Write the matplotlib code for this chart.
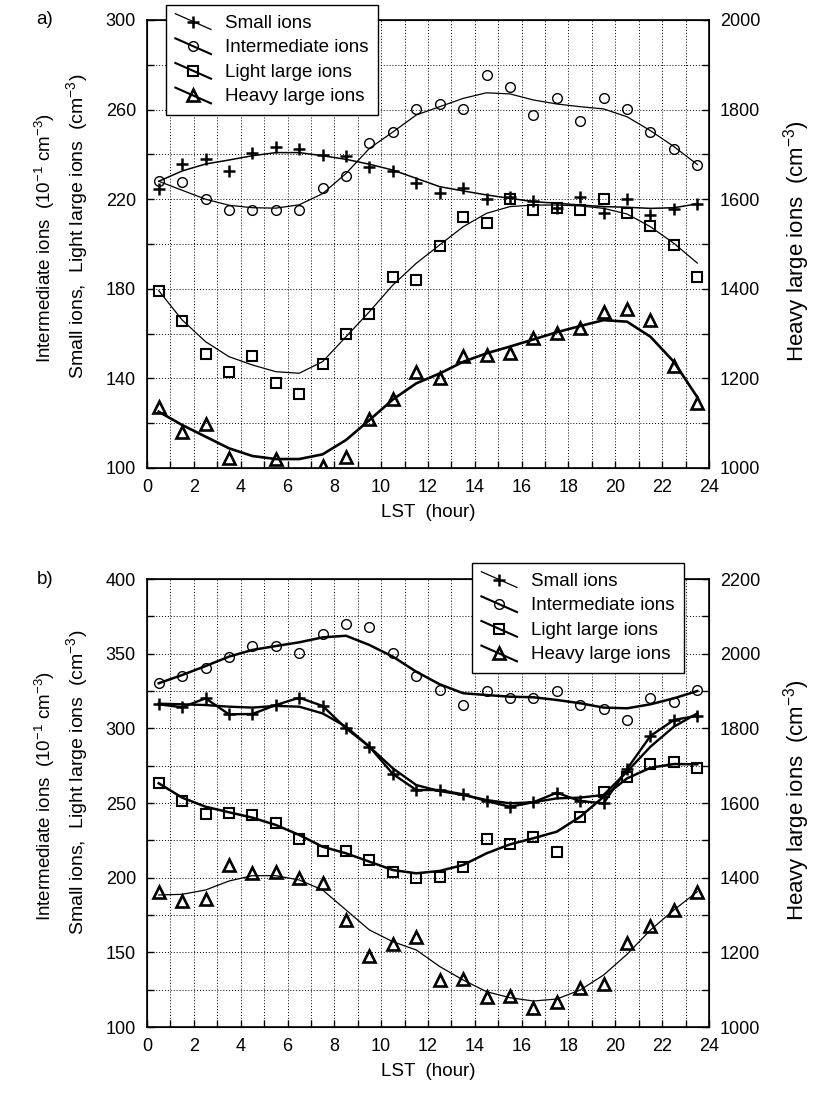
import numpy as np
import matplotlib
matplotlib.use('Agg')
import matplotlib.pyplot as plt
from matplotlib.lines import Line2D
from matplotlib.legend_handler import HandlerBase
from matplotlib.ticker import MultipleLocator, FixedLocator

plt.rcParams['font.family'] = ['Liberation Sans', 'DejaVu Sans']
plt.rcParams['mathtext.fontset'] = 'custom'
plt.rcParams['mathtext.rm'] = 'Liberation Sans'
plt.rcParams['mathtext.it'] = 'Liberation Sans'

hours = np.arange(0.5, 24, 1.0)

# ---------------- panel a) ----------------
a_small = [224.6, 235.7, 237.8, 232.7, 240.5, 243.2, 242.5, 239.6, 239.4, 234.5, 232.7, 227.1,
           222.6, 225.1, 220.0, 221.1, 219.2, 215.9, 220.8, 213.7, 220.0, 212.9, 215.8, 217.9]
a_small_fit = [228.0, 232.6, 235.7, 237.5, 239.4, 240.8, 240.8, 239.4, 237.8, 235.6, 233.0, 229.3,
               225.6, 223.7, 221.9, 220.4, 218.9, 218.2, 217.4, 216.7, 216.4, 215.9, 216.2, 217.9]
a_inter = [228.1, 227.5, 220.1, 215.2, 215.2, 215.2, 215.2, 225.1, 230.4, 245.2, 250.0, 260.1,
           262.5, 260.1, 275.3, 270.0, 257.6, 265.0, 255.0, 265.0, 260.1, 249.9, 242.5, 235.3]
a_inter_fit = [228.0, 224.0, 220.0, 217.3, 216.2, 216.0, 217.5, 222.5, 231.5, 242.7, 250.0, 257.6,
               261.3, 265.0, 267.5, 267.0, 264.3, 262.5, 261.3, 260.3, 256.8, 250.6, 243.5, 235.5]
a_light = [179.2, 165.6, 150.9, 143.0, 150.0, 138.1, 133.0, 146.4, 159.8, 168.6, 185.1, 183.9,
           199.1, 211.9, 209.2, 220.0, 215.2, 215.9, 215.2, 220.0, 213.7, 208.0, 199.6, 185.1]
a_light_fit = [179.2, 166.1, 156.4, 149.7, 146.0, 143.0, 142.3, 147.5, 158.6, 169.8, 181.7, 191.4,
               199.6, 207.7, 213.7, 216.7, 217.4, 217.4, 217.0, 215.9, 213.4, 207.7, 200.3, 191.5]
a_heavy = [1136.8, 1081.0, 1097.5, 1021.6, np.nan, 1020.0, np.nan, 1004.5, 1023.8, 1109.4, 1154.0, 1215.0,
           1200.0, 1250.0, 1252.0, 1256.0, 1289.5, 1302.0, 1312.0, 1349.0, 1354.0, 1330.0, 1228.0, 1144.0]
a_heavy_fit = [1125.7, 1096.0, 1070.0, 1044.0, 1026.8, 1020.0, 1020.0, 1030.5, 1062.5, 1107.0, 1153.0, 1189.0,
               1211.0, 1237.0, 1256.0, 1271.0, 1287.0, 1303.0, 1317.0, 1330.0, 1326.6, 1293.0, 1237.0, 1158.0]

# ---------------- panel b) ----------------
b_small = [316.1, 314.1, 320.1, 309.4, 309.6, 315.6, 320.5, 315.0, 300.0, 287.7, 269.4, 258.7,
           258.7, 255.8, 251.3, 247.5, 250.5, 256.9, 251.3, 249.8, 272.8, 294.9, 305.6, 308.5]
b_small_fit = [316.5, 316.1, 315.6, 314.5, 313.9, 315.0, 314.5, 310.0, 301.1, 287.7, 273.2, 262.0,
               258.0, 255.4, 252.0, 249.8, 250.5, 253.1, 253.6, 255.4, 271.0, 287.7, 301.1, 310.0]
b_inter = [330.2, 335.3, 340.2, 347.6, 355.3, 355.3, 350.2, 363.0, 370.1, 367.7, 350.2, 335.3,
           325.5, 315.6, 325.2, 320.5, 320.5, 325.2, 315.6, 312.9, 305.6, 320.5, 317.8, 325.5]
b_inter_fit = [330.2, 335.7, 341.7, 348.0, 352.5, 355.1, 357.6, 360.9, 362.0, 355.8, 348.0, 337.9,
               329.5, 323.5, 322.3, 321.2, 320.8, 319.0, 316.8, 313.9, 313.4, 316.1, 320.1, 325.0]
b_light = [263.2, 251.3, 242.6, 243.1, 242.0, 236.4, 225.9, 217.9, 217.9, 211.8, 203.6, 199.6,
           200.7, 207.3, 225.9, 222.3, 227.4, 217.4, 240.8, 257.6, 267.6, 275.9, 277.7, 273.6]
b_light_fit = [263.2, 253.6, 247.5, 243.8, 240.2, 235.3, 228.6, 220.7, 216.3, 210.7, 205.1, 202.9,
               204.5, 208.5, 216.3, 222.3, 226.4, 230.8, 240.8, 254.2, 266.5, 273.6, 276.1, 275.9]
b_heavy = [1360.8, 1337.5, 1342.9, 1433.9, 1411.6, 1414.3, 1400.0, 1386.6, 1286.6, 1191.0, 1222.3, 1241.9,
           1125.9, 1128.6, 1081.2, 1083.0, 1050.0, 1066.0, 1105.4, 1114.3, 1225.9, 1271.4, 1313.4, 1362.4]
b_heavy_fit = [1353.6, 1355.4, 1367.0, 1391.0, 1405.3, 1405.3, 1393.8, 1367.0, 1313.4, 1259.8, 1228.5, 1206.3,
               1162.0, 1125.9, 1094.6, 1078.5, 1069.6, 1075.0, 1099.0, 1139.3, 1194.7, 1259.8, 1313.4, 1362.4]

labels = ['Small ions', 'Intermediate ions', 'Light large ions', 'Heavy large ions']
a_yticks = [100, 140, 180, 220, 260, 300]
b_yticks = [100, 150, 200, 250, 300, 350, 400]


class DiagHandler(HandlerBase):
    def create_artists(self, legend, orig_handle, xdescent, ydescent, width, height, fontsize, trans):
        x0 = -xdescent
        x1 = x0 + width
        yt = -ydescent + height * 1.05
        yb = -ydescent - height * 0.15
        ln = Line2D([x0, x1], [yt, yb], color='k', lw=orig_handle.get_linewidth())
        mk = Line2D([(x0 + x1) / 2], [(yt + yb) / 2], ls='none',
                    marker=orig_handle.get_marker(), ms=orig_handle.get_markersize(),
                    mfc=orig_handle.get_markerfacecolor(), mec='k',
                    mew=orig_handle.get_markeredgewidth())
        ln.set_transform(trans)
        mk.set_transform(trans)
        return [ln, mk]


MK = {
    'small': dict(marker='+', ms=8, mew=1.8, mfc='none', mec='k'),
    'inter': dict(marker='o', ms=7, mew=1.0, mfc='none', mec='k'),
    'light': dict(marker='s', ms=7.5, mew=1.5, mfc='none', mec='k'),
    'heavy': dict(marker='^', ms=8.5, mew=1.9, mfc='none', mec='k'),
}

fig = plt.figure(figsize=(8.28, 10.93), dpi=100)
L, R = 147 / 828, 709 / 828
H = 1093.0


def make_axes(top_px, bot_px, ylim, yticks, ymstep, y2lim, y2step, y2mstep):
    ax = fig.add_axes([L, 1 - bot_px / H, R - L, (bot_px - top_px) / H])
    ax.set_xlim(0, 24)
    ax.set_ylim(*ylim)
    ax.xaxis.set_major_locator(MultipleLocator(2))
    ax.xaxis.set_minor_locator(MultipleLocator(1))
    ax.yaxis.set_major_locator(FixedLocator(yticks))
    ax.yaxis.set_minor_locator(MultipleLocator(ymstep))
    ax.grid(True, which='both', color='k', lw=0.7, ls=(0, (1, 2)))
    ax.tick_params(which='both', direction='in', length=5, width=1, labelsize=13, pad=8,
                   right=False, top=False)
    for s in ax.spines.values():
        s.set_linewidth(1.2)
    ax2 = ax.twinx()
    ax2.set_ylim(*y2lim)
    ax2.yaxis.set_major_locator(MultipleLocator(y2step))
    ax2.yaxis.set_minor_locator(MultipleLocator(y2mstep))
    ax2.tick_params(which='both', direction='in', length=5, width=1, labelsize=13, pad=8)
    ax.set_xlabel('LST  (hour)', fontsize=13.5, labelpad=6)
    return ax, ax2


# ----- panel a
axa, axa2 = make_axes(20, 468, (100, 300), a_yticks, 20, (1000, 2000), 200, 100)
axa.plot(hours, a_small_fit, color='k', lw=1.1, zorder=3)
axa.plot(hours, a_small, ls='none', zorder=4, **MK['small'])
axa.plot(hours, a_inter_fit, color='k', lw=0.9, zorder=3)
axa.plot(hours, a_inter, ls='none', zorder=4, **MK['inter'])
axa.plot(hours, a_light_fit, color='k', lw=0.9, zorder=3)
axa.plot(hours, a_light, ls='none', zorder=4, **MK['light'])
axa2.plot(hours, a_heavy_fit, color='k', lw=1.9, zorder=3)
axa2.plot(hours, a_heavy, ls='none', zorder=4, **MK['heavy'])

# ----- panel b
axb, axb2 = make_axes(579, 1027, (100, 400), b_yticks, 25, (1000, 2200), 200, 100)
axb.plot(hours, b_small, color='k', lw=1.7, zorder=3)
axb.plot(hours, b_small_fit, color='k', lw=1.7, zorder=3)
axb.plot(hours, b_small, ls='none', zorder=4, **MK['small'])
axb.plot(hours, b_inter_fit, color='k', lw=1.8, zorder=3)
axb.plot(hours, b_inter, ls='none', zorder=4, **MK['inter'])
axb.plot(hours, b_light_fit, color='k', lw=1.8, zorder=3)
axb.plot(hours, b_light, ls='none', zorder=4, **MK['light'])
axb2.plot(hours, b_heavy_fit, color='k', lw=0.9, zorder=3)
axb2.plot(hours, b_heavy, ls='none', zorder=4, **MK['heavy'])


def proxies(lws):
    keys = ['small', 'inter', 'light', 'heavy']
    hs = []
    for k, lw in zip(keys, lws):
        d = dict(MK[k])
        hs.append(Line2D([], [], color='k', lw=lw, **d))
    return hs


for ax2, (lx, ly) in ((axa2, (166, 5)), (axb2, (472, 563))):
    hs = proxies([0.9, 1.5, 1.5, 1.5])
    leg = ax2.legend(hs, labels, loc='upper left', bbox_to_anchor=(lx / 828, 1 - ly / H),
                     bbox_transform=fig.transFigure, borderaxespad=0, fontsize=13.5,
                     handlelength=1.9, handletextpad=0.75, labelspacing=0.4, borderpad=0.5,
                     fancybox=False, framealpha=1, edgecolor='k',
                     handler_map={Line2D: DiagHandler()})
    leg.get_frame().set_linewidth(1.0)
    leg.set_zorder(10)

for (c1, c2, cr) in ((238, 226, 241), (796, 782, 800)):
    fig.text(45 / 828, 1 - c1 / H, 'Intermediate ions  (10$^{-1}$ cm$^{-3}$)', rotation=90,
             ha='center', va='center', fontsize=13.5)
    fig.text(77 / 828, 1 - c2 / H, 'Small ions,  Light large ions  (cm$^{-3}$)', rotation=90,
             ha='center', va='center', fontsize=14)
    fig.text(797 / 828, 1 - cr / H, 'Heavy large ions  (cm$^{-3}$)', rotation=90,
             ha='center', va='center', fontsize=16)

fig.text(45 / 828, 1 - 20 / H, 'a)', ha='center', va='center', fontsize=13.5)
fig.text(45 / 828, 1 - 580 / H, 'b)', ha='center', va='center', fontsize=13.5)

fig.savefig('out.png', dpi=100)
